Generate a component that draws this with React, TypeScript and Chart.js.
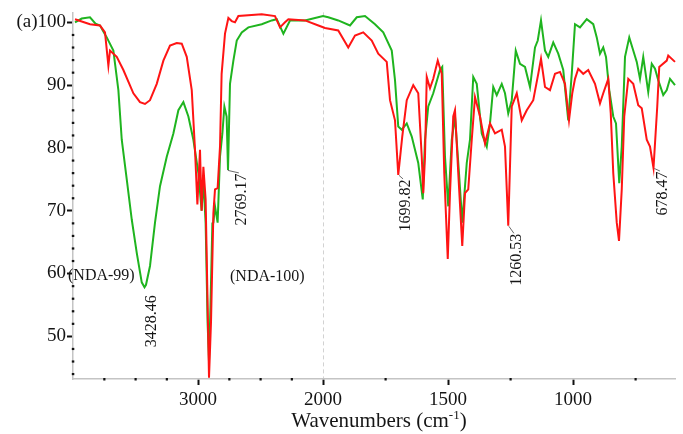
import React, { useEffect, useRef } from 'react';
import { Chart, registerables, LinearScale } from 'chart.js';

// ---------- axis definition ----------
const BREAK_WAVENUMBER = 2000; // scale is compressed 2x above this wavenumber
const X_MIN = 592;
const X_MAX = 4000;
const Y_MIN = 43.2;
const Y_MAX = 101.58;

const xTickValues = [3750, 3500, 3250, 3000, 2750, 2500, 2250, 2000, 1750, 1500, 1250, 1000, 750];
const xLabeledTicks = [3000, 2000, 1500, 1000];
const yLabeledTicks = [100, 90, 80, 70, 60, 50];
const xTitleMain = 'Wavenumbers (cm';
const xTitleSup = '-1';
const xTitleEnd = ')';
const panelTag = '(a)';

// ---------- series ----------
const sampleNames = ['(NDA-100)', '(NDA-99)'];

const nda100Wavenumbers = [
  3984, 3864, 3784, 3744, 3717, 3704, 3650, 3597, 3517, 3464, 3424, 3384, 3330, 3277, 3224, 3170, 3130,
  3090, 3050, 3024, 3005, 2984, 2971, 2957, 2939, 2923, 2912, 2896, 2877, 2864, 2843, 2824, 2811, 2784,
  2757, 2730, 2704, 2677, 2490, 2384, 2344, 2304, 2277, 2144, 2037, 1992, 1939, 1899, 1872, 1839, 1805,
  1779, 1745, 1732, 1712, 1699, 1683, 1665, 1639, 1619, 1605, 1599, 1592, 1585, 1572, 1559, 1541, 1525,
  1515, 1501, 1492, 1479, 1472, 1459, 1443, 1432, 1419, 1405, 1392, 1372, 1352, 1332, 1312, 1285, 1272,
  1259, 1245, 1225, 1205, 1185, 1159, 1139, 1128, 1112, 1092, 1072, 1052, 1032, 1016, 1003, 992, 979,
  959, 939, 912, 892, 879, 859, 849, 839, 825, 816, 805, 795, 779, 759, 739, 725, 705, 692, 678, 663,
  655, 625, 619, 592,
];
const nda100Transmittance = [
  100.5, 99.7, 99.5, 98.4, 93.1, 95.5, 94.5, 92.4, 88.7, 87.3, 87.0, 87.6, 90.2, 93.9, 96.3, 96.7, 96.6,
  94.5, 89.2, 79.7, 71.0, 79.7, 70.0, 77.0, 71.8, 54.9, 43.4, 52.2, 69.6, 73.4, 73.6, 80.2, 91.8, 98.2,
  100.7, 100.2, 100.0, 101.0, 101.3, 101.0, 99.2, 100.0, 100.5, 100.3, 99.5, 99.1, 98.7, 96.0, 97.9, 98.4, 97.1,
  95.0, 93.7, 87.6, 84.4, 75.7, 81.8, 87.6, 90.0, 88.7, 78.6, 72.8, 78.6, 91.3, 89.5, 91.0, 93.9, 91.8,
  76.0, 62.3, 72.8, 85.0, 86.0, 76.0, 64.4, 72.8, 73.4, 81.3, 88.1, 85.0, 80.7, 83.9, 82.3, 82.9, 80.2,
  67.6, 86.6, 88.7, 84.4, 86.0, 87.6, 91.8, 94.2, 89.7, 89.2, 91.8, 92.1, 90.2, 84.4, 88.7, 91.0, 92.6,
  91.8, 92.4, 90.2, 87.1, 88.7, 91.0, 85.5, 76.0, 68.1, 65.2, 73.4, 85.0, 91.0, 90.2, 86.8, 86.3, 81.3, 80.2, 76.8, 86.6,
  92.9, 93.9, 94.7, 93.7,
];

const nda99Wavenumbers = [
  3984, 3930, 3864, 3820, 3784, 3730, 3677, 3637, 3610, 3570, 3530, 3490, 3450, 3428, 3416, 3384, 3344,
  3304, 3250, 3197, 3157, 3117, 3077, 3037, 2997, 2984, 2971, 2957, 2939, 2923, 2912, 2900, 2885, 2877,
  2864, 2843, 2824, 2805, 2789, 2771, 2760, 2744, 2717, 2690, 2650, 2597, 2490, 2410, 2370, 2317, 2264,
  2144, 2000, 1979, 1939, 1892, 1865, 1832, 1792, 1759, 1725, 1712, 1699, 1685, 1665, 1645, 1619, 1601,
  1592, 1579, 1559, 1532, 1523, 1512, 1499, 1485, 1472, 1456, 1443, 1425, 1412, 1399, 1385, 1365, 1345,
  1332, 1319, 1305, 1285, 1272, 1259, 1245, 1229, 1212, 1192, 1172, 1152, 1141, 1128, 1112, 1099, 1079,
  1059, 1039, 1019, 1005, 992, 972, 945, 919, 905, 892, 879, 868, 855, 839, 828, 815, 805, 792, 775, 759,
  745, 732, 719, 699, 685, 672, 659, 639, 625, 612, 592,
];
const nda99Transmittance = [
  100.0, 100.6, 100.8, 99.8, 99.5, 97.6, 95.5, 89.2, 81.3, 75.0, 68.6, 63.3, 58.6, 57.8, 58.2, 61.2, 68.1,
  73.9, 78.6, 82.3, 86.0, 87.3, 85.0, 81.3, 76.0, 73.0, 70.0, 75.0, 68.0, 52.0, 46.0, 55.0, 68.0, 68.1,
  70.7, 68.1, 78.6, 82.3, 86.6, 85.0, 76.5, 90.2, 93.9, 97.1, 98.4, 99.2, 99.7, 100.3, 100.5, 98.2, 100.3,
  100.3, 101.0, 100.8, 100.3, 99.5, 100.8, 101.0, 99.7, 98.4, 95.5, 90.8, 83.4, 82.9, 83.9, 81.8, 77.6, 71.8,
  81.3, 86.6, 88.7, 92.4, 92.9, 78.6, 70.7, 81.3, 85.0, 76.0, 68.1, 77.6, 81.3, 91.3, 90.2, 82.3, 80.2,
  83.9, 89.7, 88.4, 90.2, 88.7, 85.5, 87.6, 95.5, 93.4, 92.9, 89.7, 96.0, 97.1, 100.3, 95.5, 94.5, 96.8,
  95.0, 92.4, 84.4, 91.8, 99.7, 99.2, 100.5, 99.7, 97.6, 95.0, 96.0, 94.5, 89.2, 85.0, 83.9, 74.4, 80.2, 94.5, 97.6, 95.5,
  93.7, 91.0, 94.5, 88.9, 93.4, 92.6, 90.8, 88.4, 89.2, 91.0, 90.0,
];

// ---------- peak annotations ----------
const peakLabels = ['3428.46', '2769.17', '1699.82', '1260.53', '678.47'];
const peakWavenumbers = [3428.46, 2769.17, 1699.82, 1260.53, 678.47];
const peakValues = [57.8, 76.5, 75.7, 67.6, 76.8];

// layout offsets (pixels) of each rotated peak label relative to its peak, and whether a leader is drawn
const peakLabelOffsets = [
  [7.5, 8],
  [15, 3.5],
  [8, 4.5],
  [9, 8],
  [9.5, 3.5],
];
const peakLeader = [false, true, true, true, true];

const SERIF = '"Liberation Serif", "Times New Roman", serif';
const TEXT_COLOR = '#151515';

// ---------- custom scale with a break (2x compression) at 2000 cm-1 ----------
const fwd = (w: number) => (w == null ? w : w > BREAK_WAVENUMBER ? BREAK_WAVENUMBER + (w - BREAK_WAVENUMBER) / 2 : w);
const inv = (u: number) => (u > BREAK_WAVENUMBER ? BREAK_WAVENUMBER + (u - BREAK_WAVENUMBER) * 2 : u);

class BrokenWavenumberScale extends LinearScale {
  static id = 'brokenWavenumber';
  static defaults = {};
  determineDataLimits() {
    (this as any).min = fwd(X_MIN);
    (this as any).max = fwd(X_MAX);
  }
  buildTicks() {
    return xTickValues.map((v) => ({ value: v }));
  }
  getPixelForValue(value: number) {
    return super.getPixelForValue(fwd(value) as number);
  }
  getValueForPixel(pixel: number) {
    return inv(super.getValueForPixel(pixel) as number);
  }
}

Chart.register(...registerables, BrokenWavenumberScale as any);

const overlayPlugin = {
  id: 'overlay',
  afterDraw(chart: any) {
    const { ctx, chartArea, scales } = chart;
    const xs = scales.x;
    const ys = scales.y;
    ctx.save();
    // minor tick dots
    ctx.fillStyle = '#111';
    xs.ticks.forEach((t: any) => {
      if (!xLabeledTicks.includes(t.value)) {
        const px = xs.getPixelForValue(t.value);
        ctx.fillRect(px - 1, chartArea.bottom - 1, 2.2, 2.5);
      }
    });
    ys.ticks.forEach((t: any) => {
      if (!yLabeledTicks.includes(t.value)) {
        const py = ys.getPixelForValue(t.value);
        ctx.fillRect(chartArea.left - 1.2, py - 1, 2.5, 2.2);
      }
    });

    // peak labels (rotated)
    ctx.fillStyle = TEXT_COLOR;
    ctx.strokeStyle = '#444';
    ctx.lineWidth = 0.8;
    ctx.font = `16px ${SERIF}`;
    peakLabels.forEach((label, i) => {
      const px = xs.getPixelForValue(peakWavenumbers[i]);
      const py = ys.getPixelForValue(peakValues[i]);
      const [dx, dy] = peakLabelOffsets[i];
      if (peakLeader[i]) {
        ctx.beginPath();
        ctx.moveTo(px + 1, py + 0.5);
        ctx.lineTo(px + dx - 3, py + dy - 0.5);
        ctx.stroke();
      }
      ctx.save();
      ctx.translate(px + dx, py + dy);
      ctx.rotate(-Math.PI / 2);
      ctx.textAlign = 'right';
      ctx.textBaseline = 'middle';
      ctx.fillText(label, 0, 0);
      ctx.restore();
    });

    // sample names
    ctx.textAlign = 'left';
    ctx.textBaseline = 'middle';
    ctx.fillText(sampleNames[1], chartArea.left - 5, ys.getPixelForValue(60) + 2);
    ctx.fillText(sampleNames[0], xs.getPixelForValue(2744), ys.getPixelForValue(60) + 3);

    // x axis title with superscript
    const mainFont = `21px ${SERIF}`;
    const supFont = `13px ${SERIF}`;
    ctx.font = mainFont;
    const w1 = ctx.measureText(xTitleMain).width;
    const w3 = ctx.measureText(xTitleEnd).width;
    ctx.font = supFont;
    const w2 = ctx.measureText(xTitleSup).width;
    const total = w1 + w2 + w3;
    const cx = (chartArea.left + chartArea.right) / 2 + 5;
    const base = chart.height - 7;
    let x0 = cx - total / 2;
    ctx.textBaseline = 'alphabetic';
    ctx.font = mainFont;
    ctx.fillText(xTitleMain, x0, base);
    x0 += w1;
    ctx.font = supFont;
    ctx.fillText(xTitleSup, x0, base - 8);
    x0 += w2;
    ctx.font = mainFont;
    ctx.fillText(xTitleEnd, x0, base);
    ctx.restore();
  },
};

export default function App() {
  const canvasRef = useRef<HTMLCanvasElement | null>(null);

  useEffect(() => {
    document.body.style.margin = '0';
    const canvas = canvasRef.current;
    if (!canvas) return;
    const chart = new Chart(canvas, {
      type: 'line',
      data: {
        datasets: [
          {
            label: sampleNames[0],
            data: nda100Wavenumbers.map((w, i) => ({ x: w, y: nda100Transmittance[i] })),
            borderColor: '#ff1414',
            borderWidth: 2,
            pointRadius: 0,
            tension: 0,
            fill: false,
          },
          {
            label: sampleNames[1],
            data: nda99Wavenumbers.map((w, i) => ({ x: w, y: nda99Transmittance[i] })),
            borderColor: '#1fb41f',
            borderWidth: 2,
            pointRadius: 0,
            tension: 0,
            fill: false,
          },
        ],
      },
      options: {
        responsive: false,
        animation: false,
        events: [],
        devicePixelRatio: 1,
        layout: { padding: { left: 0, right: 8, top: 10, bottom: 0 } },
        plugins: {
          legend: { display: false },
          tooltip: { enabled: false },
          title: { display: false },
        },
        scales: {
          x: {
            type: 'brokenWavenumber' as any,
            position: 'bottom',
            reverse: true,
            afterFit: (scale: any) => {
              scale.height = 55;
            },
            ticks: {
              autoSkip: false,
              maxRotation: 0,
              minRotation: 0,
              padding: 4,
              color: TEXT_COLOR,
              font: { family: SERIF, size: 19 },
              callback: (value: any) => (xLabeledTicks.includes(Number(value)) ? String(value) : ''),
            },
            grid: {
              display: true,
              drawOnChartArea: true,
              drawTicks: true,
              tickLength: 6,
              lineWidth: 1,
              color: (c: any) => (c.tick && c.tick.value === BREAK_WAVENUMBER ? '#d2d2d2' : 'rgba(0,0,0,0)'),
              tickColor: (c: any) => (c.tick && xLabeledTicks.includes(c.tick.value) ? '#111' : 'rgba(0,0,0,0)'),
              tickWidth: 2,
            },
            border: { display: true, color: '#c4c4c4', width: 1.5, dash: [4, 3] },
          } as any,
          y: {
            type: 'linear',
            min: Y_MIN,
            max: Y_MAX,
            afterFit: (scale: any) => {
              scale.width = 73;
            },
            ticks: {
              stepSize: 2,
              includeBounds: false,
              autoSkip: false,
              padding: 1,
              color: TEXT_COLOR,
              font: { family: SERIF, size: 19 },
              callback: (value: any) => {
                const v = Number(value);
                if (!yLabeledTicks.includes(v)) return '';
                return v === 100 ? panelTag + String(v) : String(v);
              },
            },
            grid: {
              display: true,
              drawOnChartArea: false,
              drawTicks: true,
              tickLength: 6,
              tickColor: (c: any) => (c.tick && yLabeledTicks.includes(c.tick.value) ? '#111' : 'rgba(0,0,0,0)'),
              tickWidth: 2,
            },
            border: { display: true, color: '#c4c4c4', width: 1.5 },
          },
        },
      },
      plugins: [overlayPlugin],
    });
    return () => chart.destroy();
  }, []);

  return (
    <div style={{ width: 683, height: 434, background: '#fff' }}>
      <canvas ref={canvasRef} width={683} height={434} style={{ display: 'block' }} />
    </div>
  );
}
